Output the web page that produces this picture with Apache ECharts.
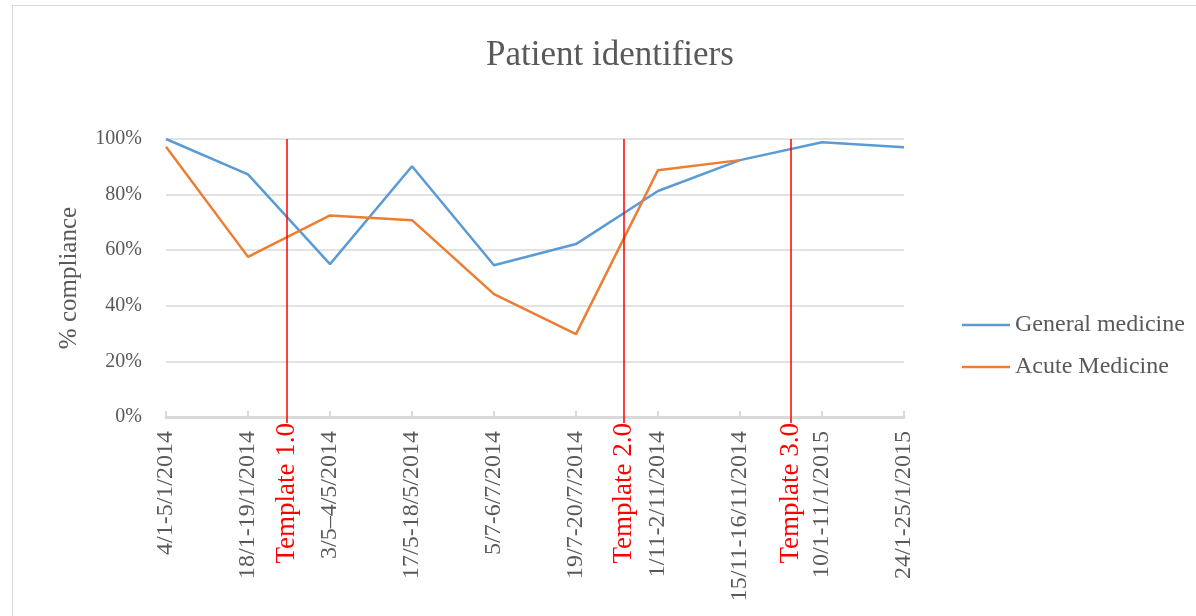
<!DOCTYPE html>
<html>
<head>
<meta charset="utf-8">
<title>Patient identifiers</title>
<script src="https://cdn.jsdelivr.net/npm/echarts@6/dist/echarts.min.js"></script>
<style>
    html, body { margin: 0; padding: 0; background: #fff; overflow: hidden; }
    #chart { position: absolute; left: 0; top: 0; width: 1196px; height: 616px; }
    #frame {
        position: absolute; left: 12px; top: 5px; width: 1300px; height: 700px;
        border: 1.5px solid #d9d9d9; pointer-events: none;
    }
</style>
</head>
<body>
<div id="chart"></div>
<div id="frame"></div>
<script>
// 数据
const categories = [
    '4/1-5/1/2014', '18/1-19/1/2014', '3/5–4/5/2014', '17/5-18/5/2014', '5/7-6/7/2014',
    '19/7-20/7/2014', '1/11-2/11/2014', '15/11-16/11/2014', '10/1-11/1/2015', '24/1-25/1/2015'
];
const generalMedicine = [100, 87.3, 55.0, 90.2, 54.6, 62.2, 81.3, 92.4, 98.8, 97.0];
const acuteMedicine = [97.2, 57.6, 72.5, 70.8, 44.2, 29.8, 88.8, 92.4, null, null];

// 模板更换的位置（按类别序号计）
const templatePos = [1.47, 5.58, 7.62];
const templateNames = ['Template 1.0', 'Template 2.0', 'Template 3.0'];

const FONT = "'Liberation Serif', 'Times New Roman', serif";
const TEXT = '#595959';

const chart = echarts.init(document.getElementById('chart'));

const option = {
    animation: false,
    title: {
        text: 'Patient identifiers',
        left: 486,
        top: 38,
        padding: 0,
        textStyle: { fontFamily: FONT, fontSize: 35, fontWeight: 'normal', color: TEXT }
    },
    legend: {
        orient: 'vertical',
        left: 962,
        top: 313,
        padding: 0,
        icon: 'rect',
        itemWidth: 48,
        itemHeight: 2.5,
        itemGap: 18,
        data: ['General medicine', 'Acute Medicine'],
        textStyle: { fontFamily: FONT, fontSize: 24, color: TEXT }
    },
    grid: { left: 166, right: 292, top: 139, bottom: 199 },
    xAxis: [
        {
            type: 'category',
            data: categories,
            boundaryGap: false,
            axisLine: { lineStyle: { color: '#d9d9d9', width: 3 } },
            axisTick: { inside: true, length: 6, lineStyle: { color: '#d9d9d9', width: 2 } },
            axisLabel: {
                rotate: 90, margin: 14, interval: 0,
                fontFamily: FONT, fontSize: 24, color: TEXT
            },
            splitLine: { show: false }
        },
        {
            type: 'value',
            min: 0,
            max: categories.length - 1,
            position: 'bottom',
            axisLine: { show: false },
            axisTick: {
                show: true, length: 6, customValues: templatePos,
                lineStyle: { color: '#ff0000', width: 1.5 }
            },
            axisLabel: {
                show: true, customValues: templatePos, rotate: 90, margin: 6,
                fontFamily: FONT, fontSize: 27, color: '#ff0000',
                formatter: function (v) {
                    const i = templatePos.indexOf(v);
                    return i >= 0 ? templateNames[i] : '';
                }
            },
            splitLine: { show: false }
        }
    ],
    yAxis: {
        type: 'value',
        min: 0,
        max: 100,
        interval: 20,
        name: '% compliance',
        nameLocation: 'middle',
        nameRotate: 90,
        nameGap: 84,
        nameTextStyle: { fontFamily: FONT, fontSize: 25, color: TEXT },
        axisLine: { show: false },
        axisTick: { show: false },
        axisLabel: {
            margin: 24, fontFamily: FONT, fontSize: 20, color: TEXT,
            formatter: '{value}%'
        },
        splitLine: { lineStyle: { color: '#d9d9d9', width: 1.5 } }
    },
    series: [
        {
            name: 'General medicine',
            type: 'line',
            data: generalMedicine,
            symbol: 'none',
            color: '#5b9bd5',
            lineStyle: { width: 2.5 }
        },
        {
            name: 'Acute Medicine',
            type: 'line',
            data: acuteMedicine,
            symbol: 'none',
            color: '#ed7d31',
            lineStyle: { width: 2.5 }
        },
        {
            name: 'templates',
            type: 'line',
            xAxisIndex: 1,
            data: [],
            silent: true,
            markLine: {
                symbol: 'none',
                silent: true,
                label: { show: false },
                lineStyle: { color: '#ff0000', width: 1.5, type: 'solid' },
                data: templatePos.map(v => ({ xAxis: v }))
            }
        }
    ]
};

chart.setOption(option);
</script>
</body>
</html>
